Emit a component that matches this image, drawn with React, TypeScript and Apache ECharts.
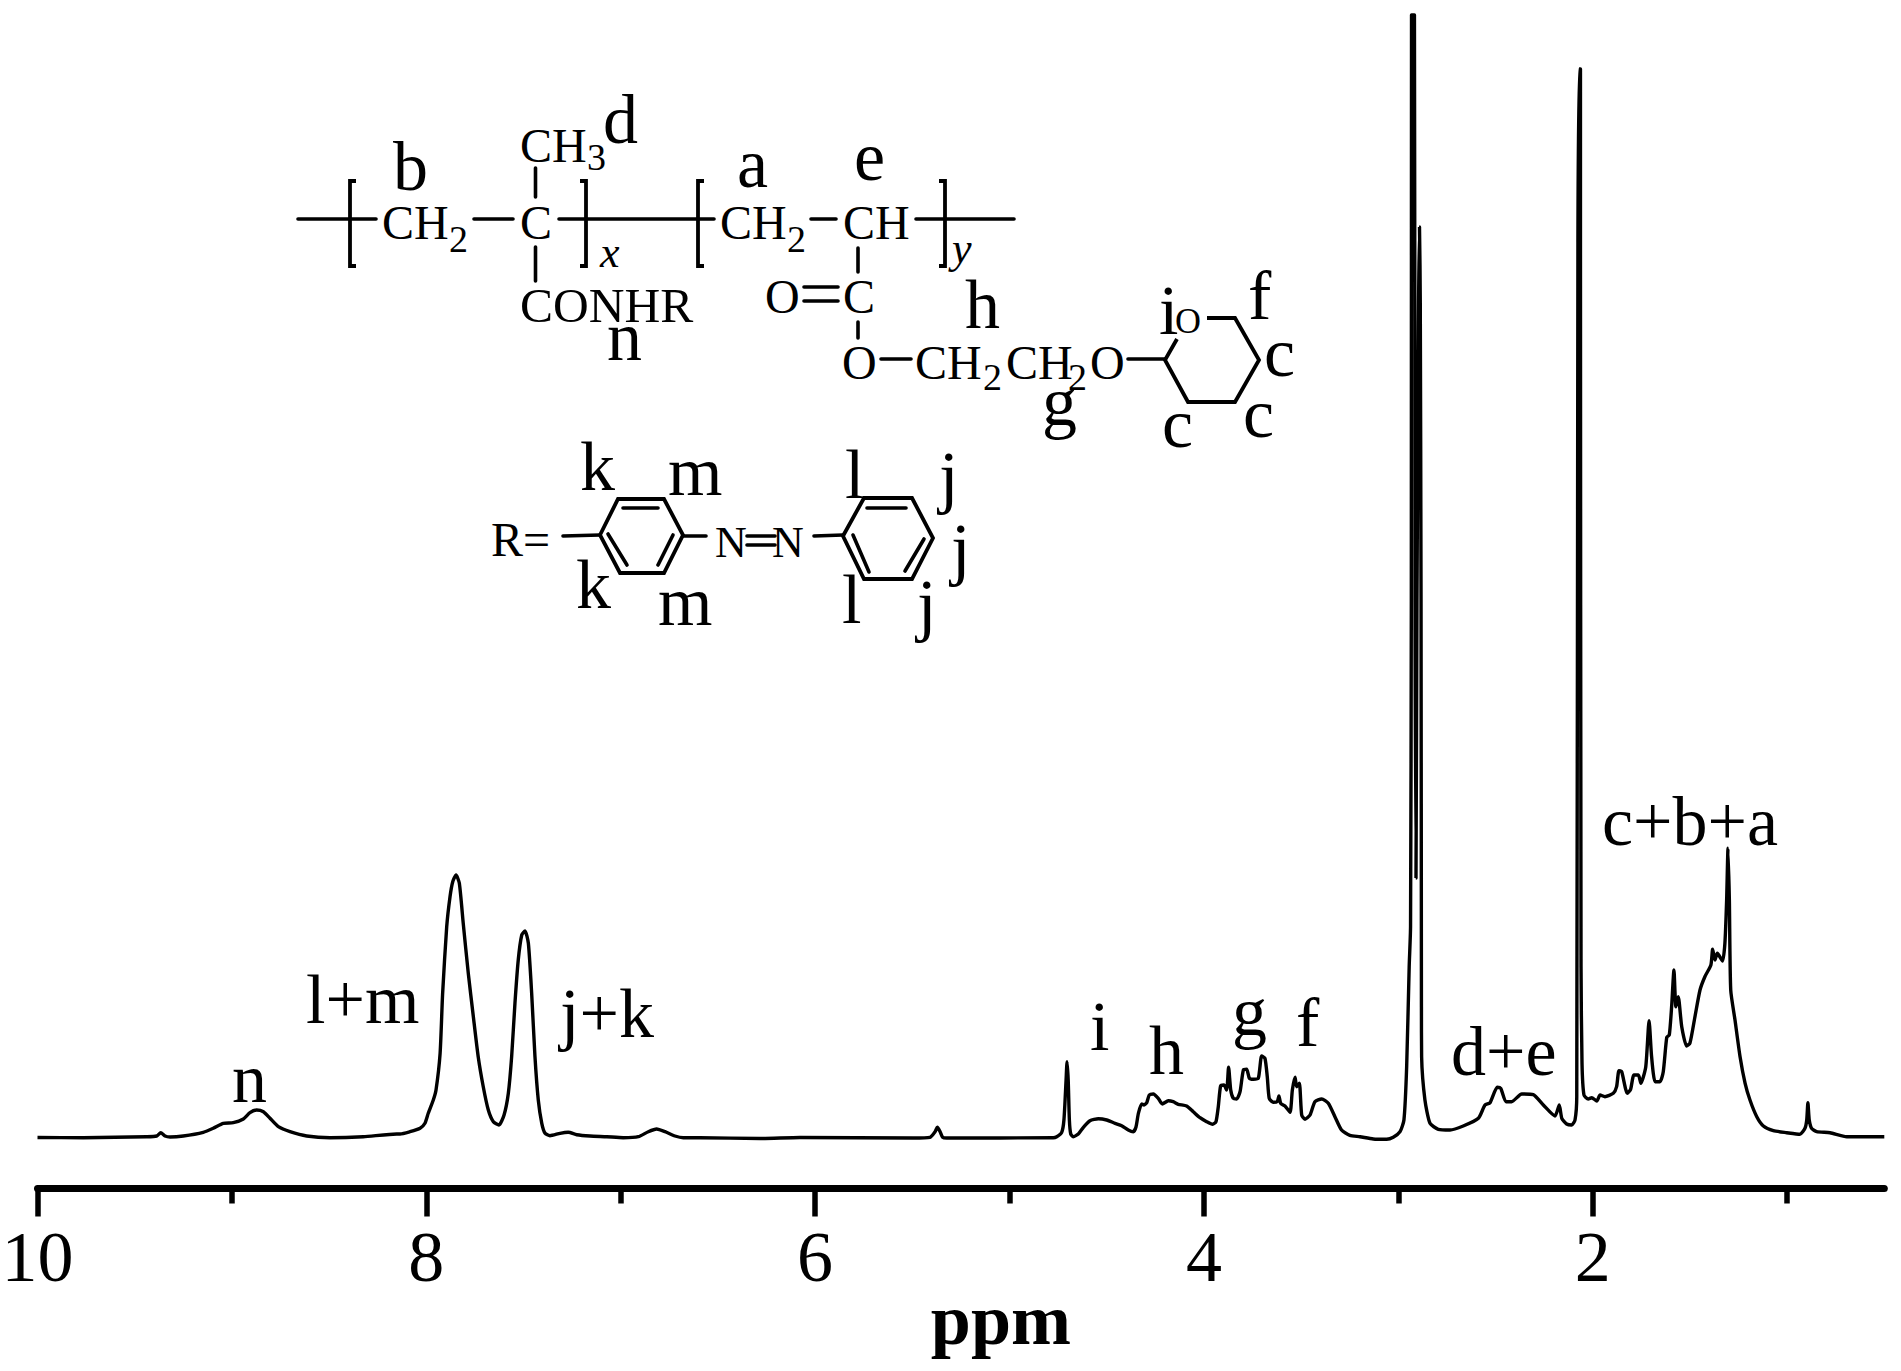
import React, { useEffect, useRef } from "react";
import * as echarts from "echarts";

// Chemical shift (ppm) and signal intensity.
const ppmN = [10.0,9.764,9.438,9.387,9.366,9.344,9.318,9.25,9.147,9.096,9.044,8.993,8.941,8.907,8.873,8.838,8.804,8.761,8.701,8.615,8.495,8.324,8.152];
const intN = [-0.5,-0.7,0.3,1,4.3,1,0,1,4.7,8.7,13.7,14.3,18,24.3,27,25.3,18.7,10.3,5.3,1,-0.7,0.3,3];

const ppmAromatic = [8.135,8.084,8.032,8.007,7.99,7.964,7.95,7.929,7.916,7.895,7.878,7.864,7.847,7.83,7.81,7.784,7.758,7.733,7.707,7.681,7.655,7.626,7.6,7.578,7.561,7.544,7.527,7.509,7.492,7.475,7.458,7.441,7.424,7.406,7.389,7.364,7.312,7.27,7.226,7.158,7.072,6.987,6.909,6.858,6.815,6.772,6.721,6.678,6.592];
const intAromatic = [3,5.3,8.7,13.7,23.7,37,47,83.7,143.7,210.3,240.3,255.3,262,253.7,213.7,163.7,120.3,80.3,50.3,27,15.3,12,22,43.7,80.3,133.7,177,202,206,193.7,143.7,80.3,37,13.7,3.7,1.3,3.7,4.7,2.3,1,0.3,-0.7,0.3,5.3,8,5.3,1,-0.7,-0.7];

const ppmMid = [6.283,6.078,5.495,5.409,5.383,5.371,5.357,5.344,5.323,4.775];
const intMid = [-1.5,-0.5,-1,-0.3,5.3,9.7,5.3,-0.3,-1,-0.7];

const ppmFtoI = [4.757,4.732,4.72,4.709,4.704,4.698,4.692,4.685,4.672,4.646,4.62,4.586,4.543,4.5,4.457,4.423,4.389,4.363,4.349,4.337,4.32,4.308,4.294,4.281,4.26,4.235,4.214,4.183,4.158,4.132,4.089,4.055,4.02,3.986,3.955,3.938,3.926,3.914,3.897,3.883,3.873,3.862,3.849,3.831,3.814,3.797,3.78,3.766,3.746,3.72,3.703,3.686,3.674,3.664,3.643,3.623,3.614,3.605,3.583,3.557,3.545,3.531,3.523,3.509,3.497,3.48,3.454,3.429,3.394,3.36,3.326,3.292,3.249,3.197,3.129,3.06];
const intFtoI = [0.3,4.3,17,57,75.3,57,17,3,0.3,3,9.7,16.3,18.3,17,13.7,11.3,7,5.3,10.3,23.7,33,32,34.3,42,43,38.7,33,36.3,35.3,32.7,31,25.3,19.3,15.3,12.7,15.3,30.3,51,52,47,69.7,47,38.7,38,45.3,67,67.7,58.7,57.7,58.7,81,78.7,60.3,38.7,34.7,35.3,41,33.7,31,24.7,47,59.7,50.3,53.7,22,17.7,22,35.3,38,33.7,20.3,7,1.7,0.3,-2,-2.3];

const ppmDoublet = [3.026,2.991,2.971,2.957,2.944,2.937,2.933,2.932,2.917,2.914,2.909,2.904,2.8955,2.891,2.887,2.883,2.881,2.88,2.863,2.837,2.794,2.734,2.666,2.588,2.554,2.528,2.491,2.473,2.446,2.417,2.365,2.306,2.254,2.194,2.172,2.159,2.134,2.108,2.091,2.082];
const intDoublet = [-0.3,5.3,17,70.3,170.3,210.3,537,1122,1122,537,259,537,837,910,837,537,130,80,37,13.7,7.7,7,11,18.7,32,34.3,49.7,48.7,35.3,35.3,43,42.3,32,21,32,18.7,13,12,17,40.3];

const ppmAliphatic = [2.076,2.0695,2.063,2.063,2.06,2.055,2.045,2.023,2.005,1.979,1.962,1.937,1.894,1.877,1.865,1.851,1.822,1.805,1.788,1.765,1.752,1.727,1.71,1.697,1.679,1.654,1.637,1.619,1.606,1.594,1.582,1.572,1.56,1.542,1.517,1.5,1.474,1.448,1.423,1.392,1.383,1.371,1.359,1.332,1.32,1.311,1.304,1.297,1.29,1.268,1.242,1.216,1.191,1.156,1.122,1.071,1.002,0.934,0.908,0.899,0.893,0.886,0.874,0.848,0.779,0.693,0.5];
const intAliphatic = [895,1068,1068,895,170,73.7,42,38,39.3,36,42,40.3,43.7,50.3,66.3,65.3,43.7,47.7,62,62,53.7,70.3,116.3,80.3,55.3,55.3,65.3,99.7,102,130.3,167,130.3,140.3,110.3,91,93.7,120.3,147,160.3,172,187.7,177,183.7,176,193.7,237,288.7,237,147,117,80.3,53.7,37,20.3,11,6.3,4.3,2.7,8.7,17,34.3,17,8.7,5.3,4.3,0.3,0.3];

const majorTicks = [10, 8, 6, 4, 2];
const minorTicks = [9, 7, 5, 3, 1];

const SERIF = "'Liberation Serif', 'Times New Roman', serif";
const BLACK = "#000000";

const zip = (xs: number[], ys: number[]) => xs.map((x, i) => [x, ys[i]]);
const spectrum = [
  ...zip(ppmN, intN),
  ...zip(ppmAromatic, intAromatic),
  ...zip(ppmMid, intMid),
  ...zip(ppmFtoI, intFtoI),
  ...zip(ppmDoublet, intDoublet),
  ...zip(ppmAliphatic, intAliphatic),
];

// text helper: x = left edge, base = alphabetic baseline
const txt = (text: string, x: number, base: number, size: number, italic = false) => ({
  type: "text",
  silent: true,
  x,
  y: base - 0.3375 * size,
  style: {
    text,
    fill: BLACK,
    font: `${italic ? "italic " : ""}${size}px ${SERIF}`,
    align: "left",
    verticalAlign: "middle",
  },
});
const bond = (x1: number, y1: number, x2: number, y2: number, w = 3.6) => ({
  type: "line",
  silent: true,
  shape: { x1, y1, x2, y2 },
  style: { stroke: BLACK, lineWidth: w, lineCap: "round" },
});
const ring = (points: number[][], w = 3.8) => ({
  type: "polygon",
  silent: true,
  shape: { points },
  style: { fill: "none", stroke: BLACK, lineWidth: w, lineJoin: "miter" },
});
const bracket = (points: number[][]) => ({
  type: "polyline",
  silent: true,
  shape: { points },
  style: { fill: "none", stroke: BLACK, lineWidth: 3.8, lineJoin: "miter" },
});

const LABEL = 70;
const CHEM = 48;
const SUB = 38;
const ITALIC = 44;

const peakLabels = [
  txt("n", 232, 1102, LABEL),
  txt("l+m", 306, 1023, LABEL),
  txt("j+k", 560, 1037, LABEL),
  txt("i", 1090, 1050, LABEL),
  txt("h", 1149, 1074, LABEL),
  txt("g", 1232, 1035, LABEL),
  txt("f", 1296, 1046, LABEL),
  txt("d+e", 1451, 1075, LABEL),
  txt("c+b+a", 1602, 845, LABEL),
];

const polymer = [
  bond(298, 219, 376, 219),
  bracket([[356, 181], [350, 181], [350, 266], [356, 266]]),
  txt("CH", 382, 239, CHEM),
  txt("2", 449, 252, SUB),
  bond(474, 219, 513, 219),
  txt("C", 520, 239, CHEM),
  bond(559, 219, 714, 219),
  bracket([[580, 181], [586, 181], [586, 266], [580, 266]]),
  txt("x", 600, 267, ITALIC, true),
  bracket([[704, 181], [698, 181], [698, 266], [704, 266]]),
  txt("CH", 720, 239, CHEM),
  txt("2", 787, 252, SUB),
  bond(811, 219, 836, 219),
  txt("CH", 843, 239, CHEM),
  bond(916, 219, 1014, 219),
  bracket([[939, 181], [945, 181], [945, 266], [939, 266]]),
  txt("y", 952, 263, ITALIC, true),
  txt("CH", 520, 162, CHEM),
  txt("3", 587, 170, SUB),
  bond(535.5, 168, 535.5, 197),
  bond(535.5, 247, 535.5, 281),
  txt("CONHR", 520, 322, 49.5),
  txt("O", 765, 313, CHEM),
  bond(804, 287, 838, 287),
  bond(804, 301, 838, 301),
  txt("C", 843, 313, CHEM),
  bond(858, 248, 858, 272),
  bond(858, 322, 858, 338),
  txt("O", 842, 379, CHEM),
  bond(881, 359, 911, 359),
  txt("CH", 915, 379, CHEM),
  txt("2", 983, 390, SUB),
  txt("CH", 1006, 379, CHEM),
  txt("2", 1068, 390, SUB),
  txt("O", 1090, 379, CHEM),
  bond(1128, 359, 1165, 359),
  txt("O", 1175, 333, 36),
  {
    type: "polyline",
    silent: true,
    shape: { points: [[1177, 339], [1165, 360], [1188, 402], [1235, 402], [1259, 360], [1235, 318], [1207, 318]] },
    style: { fill: "none", stroke: BLACK, lineWidth: 3.8 },
  },
];

const azoGroup = [
  txt("R=", 491, 556, CHEM),
  bond(563, 536, 600, 535),
  ring([[600, 535], [618, 499], [664, 499], [683, 535], [664, 573], [620, 573]]),
  bond(623, 508, 658, 508),
  bond(608, 534, 627, 565),
  bond(673, 535, 658, 565),
  bond(683, 536, 706, 536),
  txt("N", 715, 557, 44),
  bond(747, 536, 775, 536),
  bond(747, 545, 775, 545),
  txt("N", 772, 557, 44),
  bond(814, 536, 843, 535),
  ring([[843, 536], [864, 498], [912, 498], [933, 538], [912, 579], [864, 579]]),
  bond(867, 508, 906, 508),
  bond(853, 535, 869, 572),
  bond(924, 539, 905, 571),
];

const structureLabels = [
  txt("b", 393, 190, LABEL),
  txt("d", 603, 143, LABEL),
  txt("a", 737, 187, LABEL),
  txt("e", 854, 180, LABEL),
  txt("n", 607, 360, LABEL),
  txt("h", 965, 328, LABEL),
  txt("i", 1159, 334, LABEL),
  txt("f", 1248, 319, LABEL),
  txt("c", 1264, 376, LABEL),
  txt("c", 1243, 437, LABEL),
  txt("c", 1162, 447, LABEL),
  txt("g", 1042, 425, LABEL),
  txt("k", 580, 490, LABEL),
  txt("m", 668, 495, LABEL),
  txt("k", 576, 608, LABEL),
  txt("m", 658, 625, LABEL),
  txt("l", 845, 498, LABEL),
  txt("l", 842, 623, LABEL),
  txt("j", 939, 500, LABEL),
  txt("j", 951, 572, LABEL),
  txt("j", 917, 628, LABEL),
];

export default function App() {
  const ref = useRef<HTMLDivElement>(null);
  useEffect(() => {
    const chart = echarts.init(ref.current!, undefined, { renderer: "svg" });
    const scaleRange = { type: "value", inverse: true, min: 0.5, max: 10, position: "bottom", offset: 0.5 };
    chart.setOption({
      animation: false,
      backgroundColor: "#ffffff",
      grid: { left: 37.5, top: 0, width: 1846.8, height: 1188, outerBoundsMode: "none" },
      xAxis: [
        {
          ...scaleRange,
          name: "ppm",
          nameLocation: "middle",
          nameGap: 95,
          nameMoveOverlap: false,
          nameTextStyle: { fontFamily: SERIF, fontSize: 72, fontWeight: "bold", color: BLACK, padding: [0, 0, 0, 80] },
          axisLine: { show: true, onZero: false, lineStyle: { color: BLACK, width: 7 } },
          axisTick: { show: true, length: 28, customValues: majorTicks, lineStyle: { color: BLACK, width: 5.5 } },
          axisLabel: {
            show: true,
            customValues: majorTicks,
            margin: 32,
            fontFamily: SERIF,
            fontSize: 72,
            color: BLACK,
            formatter: (v: number) => String(v),
          },
          splitLine: { show: false },
        },
        {
          ...scaleRange,
          axisLine: { show: false, onZero: false },
          axisTick: { show: true, length: 15, customValues: minorTicks, lineStyle: { color: BLACK, width: 5.5 } },
          axisLabel: { show: false },
          splitLine: { show: false },
        },
      ],
      yAxis: { type: "value", show: false, min: -51, max: 1137 },
      series: [
        {
          type: "line",
          xAxisIndex: 0,
          data: spectrum,
          showSymbol: false,
          symbol: "none",
          smooth: 0.2,
          lineStyle: { color: BLACK, width: 3.4, join: "round" },
        },
      ],
      graphic: { elements: [...peakLabels, ...polymer, ...azoGroup, ...structureLabels] },
    });
    return () => chart.dispose();
  }, []);
  return <div ref={ref} style={{ position: "absolute", left: 0, top: 0, width: 1901, height: 1371, background: "#fff" }} />;
}
